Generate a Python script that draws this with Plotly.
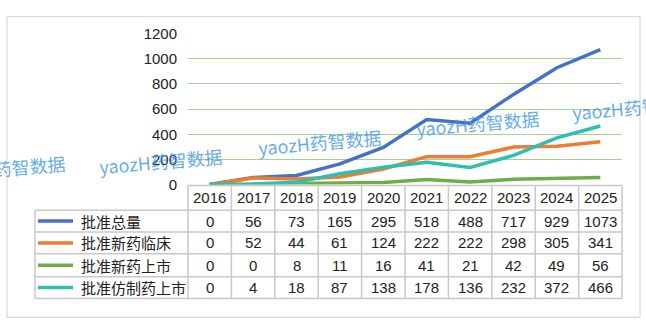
import plotly.graph_objects as go

years = ["2016", "2017", "2018", "2019", "2020", "2021", "2022", "2023", "2024", "2025"]
series_names = ["批准总量", "批准新药临床", "批准新药上市", "批准仿制药上市"]
total = [0, 56, 73, 165, 295, 518, 488, 717, 929, 1073]
new_clinical = [0, 52, 44, 61, 124, 222, 222, 298, 305, 341]
new_market = [0, 0, 8, 11, 16, 41, 21, 42, 49, 56]
generic_market = [0, 4, 18, 87, 138, 178, 136, 232, 372, 466]
y_ticks = [0, 200, 400, 600, 800, 1000, 1200]

series_values = [total, new_clinical, new_market, generic_market]
colors = ["#4472C4", "#ED7D31", "#70AD47", "#2EBFB0"]

W, H = 646, 334
def px(x):
    return x / W
def py(y):
    return 1 - y / H

plot_left, plot_right = 188, 622
plot_top, plot_bottom = 26, 185
table_left = 35
header_top = 186
row_lines = [212, 235, 258, 282, 305]

FONT = "Liberation Sans, Noto Sans CJK SC, sans-serif"
CJK = "Noto Sans CJK SC, sans-serif"

fig = go.Figure()
for name, vals, c in zip(series_names, series_values, colors):
    fig.add_trace(go.Scatter(x=years, y=vals, mode="lines", name=name,
                             line=dict(color=c, width=3.5), showlegend=False))

shapes = []
grid_col = "#C8C8C8"
shapes.append(dict(type="rect", xref="paper", yref="paper", x0=px(7), x1=px(640), y0=py(325), y1=py(8),
                   line=dict(color="#D9D9D9", width=1.2)))
shapes.append(dict(type="line", xref="paper", yref="paper", x0=px(plot_left), x1=px(plot_right),
                   y0=py(header_top), y1=py(header_top), line=dict(color=grid_col, width=1.5)))
for ry in row_lines:
    shapes.append(dict(type="line", xref="paper", yref="paper", x0=px(table_left), x1=px(plot_right),
                       y0=py(ry), y1=py(ry), line=dict(color=grid_col, width=1.5)))
shapes.append(dict(type="line", xref="paper", yref="paper", x0=px(table_left), x1=px(table_left),
                   y0=py(row_lines[0]), y1=py(row_lines[-1]), line=dict(color=grid_col, width=1.5)))
ncol = len(years)
cw = (plot_right - plot_left) / ncol
for k in range(ncol + 1):
    xx = plot_left + k * cw
    shapes.append(dict(type="line", xref="paper", yref="paper", x0=px(xx), x1=px(xx),
                       y0=py(header_top), y1=py(row_lines[-1]), line=dict(color=grid_col, width=1.5)))
for i, c in enumerate(colors):
    cy = (row_lines[i] + row_lines[i + 1]) / 2
    shapes.append(dict(type="line", xref="paper", yref="paper", x0=px(38), x1=px(73),
                       y0=py(cy), y1=py(cy), line=dict(color=c, width=3.5)))

annotations = []
def ann(**kw):
    base = dict(showarrow=False, xanchor="center", yanchor="middle")
    base.update(kw)
    annotations.append(base)

for j, yr in enumerate(years):
    ann(x=j, y=py((header_top + row_lines[0]) / 2), xref="x", yref="paper",
        text=yr, font=dict(family=FONT, size=15, color="#222"))
for i, (name, vals) in enumerate(zip(series_names, series_values)):
    cy = (row_lines[i] + row_lines[i + 1]) / 2
    ann(x=px(79), y=py(cy), xref="paper", yref="paper", xanchor="left",
        text=name, font=dict(family=CJK, size=15, color="#222"))
    for j, v in enumerate(vals):
        ann(x=j, y=py(cy), xref="x", yref="paper", text=str(v),
            font=dict(family=FONT, size=15, color="#222"))

for (wx, wy) in [(4, 168), (161, 160), (320, 140), (478, 120), (634, 103)]:
    ann(x=px(wx), y=py(wy), xref="paper", yref="paper", text="yaozH药智数据", textangle=-5,
        font=dict(family=CJK, size=18, color="rgba(60,150,230,0.8)"))

fig.update_layout(
    width=W, height=H, margin=dict(l=0, r=0, t=0, b=0),
    paper_bgcolor="white", plot_bgcolor="white",
    shapes=shapes, annotations=annotations,
    xaxis=dict(type="category", domain=[px(plot_left), px(plot_right)], range=[-0.5, 9.5],
               showticklabels=False, showgrid=False, zeroline=False, showline=False, ticks=""),
    yaxis=dict(domain=[py(plot_bottom), py(plot_top)], range=[0, 1200], tickvals=y_ticks,
               showgrid=True, gridcolor="#A9D18E", gridwidth=1, zeroline=False, showline=False,
               ticks="", ticklabelstandoff=10,
               tickfont=dict(family=FONT, size=15, color="#222")),
)
fig.write_html("out.html")
